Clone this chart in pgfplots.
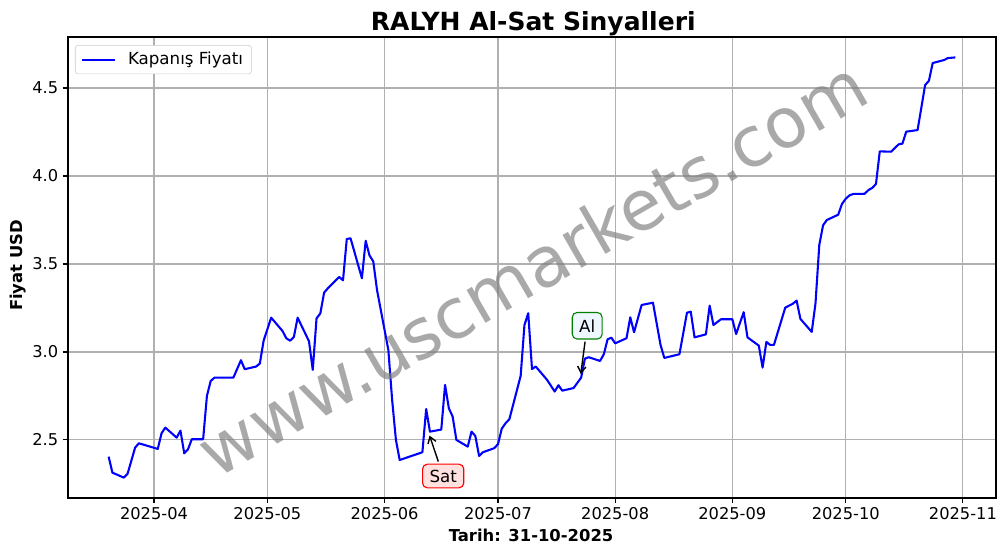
\documentclass[border=0pt]{standalone}
\usepackage{fontspec}
\setmainfont{DejaVu Sans}
\usepackage{pgfplots}
\pgfplotsset{compat=1.18}
\usetikzlibrary{arrows.meta}
\definecolor{satfill}{RGB}{255,226,224}
\definecolor{alfill}{RGB}{238,246,255}
\definecolor{algreen}{RGB}{0,128,0}
\definecolor{gridgray}{RGB}{176,176,176}
\definecolor{wmgray}{RGB}{128,128,128}

\pgfplotstableread{
day price
-12 2.405
-11 2.314
-8 2.286
-7 2.307
-5 2.456
-4 2.481
1 2.449
2 2.538
3 2.570
6 2.513
7 2.553
8 2.424
9 2.447
10 2.504
13 2.504
14 2.750
15 2.835
16 2.854
21 2.854
23 2.953
24 2.902
27 2.917
28 2.934
29 3.064
31 3.195
34 3.119
35 3.078
36 3.064
37 3.085
38 3.195
41 3.061
42 2.898
43 3.191
44 3.219
45 3.337
46 3.362
49 3.426
50 3.407
51 3.642
52 3.646
55 3.419
56 3.632
57 3.549
58 3.515
59 3.352
62 3.011
63 2.727
64 2.500
65 2.386
71 2.430
72 2.676
73 2.547
76 2.559
77 2.813
78 2.680
79 2.633
80 2.500
83 2.462
84 2.547
85 2.523
86 2.409
87 2.430
90 2.453
91 2.476
92 2.564
93 2.595
94 2.617
97 2.864
98 3.153
99 3.220
100 2.903
101 2.917
104 2.841
106 2.775
107 2.811
108 2.780
111 2.795
113 2.854
114 2.962
115 2.970
118 2.949
119 2.987
120 3.072
121 3.081
122 3.049
125 3.078
126 3.197
127 3.112
129 3.267
132 3.280
134 3.040
135 2.966
139 2.987
141 3.223
142 3.229
143 3.083
146 3.100
147 3.263
148 3.153
150 3.186
153 3.186
154 3.102
156 3.226
157 3.083
160 3.036
161 2.911
162 3.057
163 3.040
164 3.040
167 3.252
168 3.263
169 3.274
170 3.292
171 3.188
174 3.114
175 3.277
176 3.608
177 3.720
178 3.750
181 3.780
182 3.841
183 3.871
184 3.890
185 3.898
188 3.899
189 3.920
190 3.932
191 3.955
192 4.140
195 4.138
197 4.180
198 4.184
199 4.252
202 4.261
204 4.517
205 4.541
206 4.642
209 4.659
210 4.670
212 4.674
}\pricedata

\begin{document}
\begin{tikzpicture}
\path[use as bounding box] (-48.96pt,-40.32pt) rectangle (675.36pt,358.56pt);
\begin{axis}[
  at={(0,0)}, anchor=south west,
  scale only axis,
  width=668.16pt, height=331.92pt,
  xmin=-22.75, xmax=222.75,
  ymin=2.17, ymax=4.79,
  xtick={0,30,61,91,122,153,183,214},
  xticklabels={2025-04,2025-05,2025-06,2025-07,2025-08,2025-09,2025-10,2025-11},
  ytick={2.5,3.0,3.5,4.0,4.5},
  yticklabels={2.5,3.0,3.5,4.0,4.5},
  xtick pos=bottom, ytick pos=left,
  tick align=outside,
  major tick length=3.5pt,
  grid=major,
  grid style={color=gridgray, line width=0.8pt},
  axis line style={line width=0.8pt},
  tick style={black, line width=0.8pt},
  ticklabel style={font=\fontsize{11.7}{14}\selectfont},
  /pgf/number format/assume math mode=true,
  legend style={at={(0.0075,0.9826)}, anchor=north west, draw=black!20,
    rounded corners=2pt, fill=white, font=\fontsize{12}{14.4}\selectfont,
    inner xsep=4pt, inner ysep=3pt},
  legend cell align=left,
  legend image code/.code={\draw[#1, line width=1.5pt] (0.5pt,0pt) -- (24.5pt,0pt); \path (31pt,0pt);},
]
\addplot[blue, line width=1.5pt, line join=round] table[x=day, y=price] {\pricedata};
\addlegendentry{Kapanış Fiyatı}

\node[rotate=30, text=wmgray, opacity=0.68, font=\fontsize{50}{60}\selectfont]
  at (rel axis cs:0.5,0.5) {www.uscmarkets.com};

\node[draw=red, fill=satfill, rounded corners=3.5pt, line width=0.8pt,
  inner xsep=5pt, inner ysep=4pt, font=\fontsize{12}{14}\selectfont]
  (sat) at (axis cs:76.5,2.295) {Sat};
\draw[-{Straight Barb[length=4.5pt,width=6pt]}, line width=1pt, shorten <=1.5pt]
  (sat) -- (axis cs:72.9,2.525);

\node[draw=algreen, fill=alfill, rounded corners=3.5pt, line width=0.8pt,
  inner xsep=5pt, inner ysep=5pt, font=\fontsize{12}{14}\selectfont]
  (al) at (axis cs:114.6,3.149) {Al};
\draw[-{Straight Barb[length=4.5pt,width=6pt]}, line width=1pt, shorten <=1.5pt]
  (al) -- (axis cs:112.9,2.875);
\end{axis}

\node[anchor=base, font=\fontsize{18}{22}\selectfont\bfseries] at (335pt,336.7pt) {RALYH Al-Sat Sinyalleri};
\node[anchor=base, font=\fontsize{11.8}{14}\selectfont\bfseries] at (333.4pt,-31.5pt) {Tarih: 31-10-2025};
\node[anchor=base, rotate=90, font=\fontsize{11.8}{14}\selectfont\bfseries] at (-32.4pt,167.4pt) {Fiyat USD};
\end{tikzpicture}
\end{document}
